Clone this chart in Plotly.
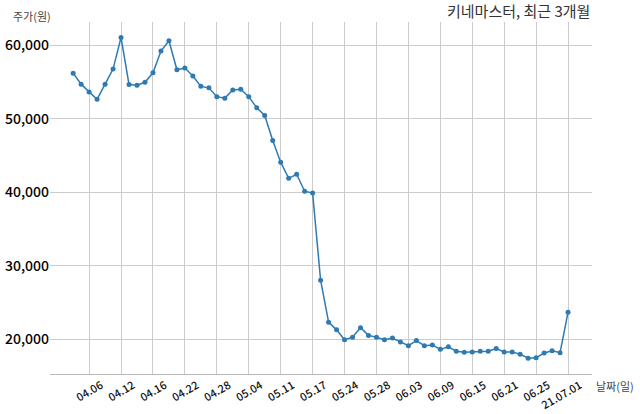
import plotly.graph_objects as go

# trading days (2021.04.02 ~ 2021.07.01)
dates = ['04.02', '04.05', '04.06', '04.07', '04.08', '04.09', '04.12', '04.13',
         '04.14', '04.15', '04.16', '04.19', '04.20', '04.21', '04.22', '04.23',
         '04.26', '04.27', '04.28', '04.29', '04.30', '05.03', '05.04', '05.06',
         '05.07', '05.10', '05.11', '05.12', '05.13', '05.14', '05.17', '05.18',
         '05.20', '05.21', '05.24', '05.25', '05.26', '05.27', '05.28', '05.31',
         '06.01', '06.02', '06.03', '06.04', '06.07', '06.08', '06.09', '06.10',
         '06.11', '06.14', '06.15', '06.16', '06.17', '06.18', '06.21', '06.22',
         '06.23', '06.24', '06.25', '06.28', '06.29', '06.30', '07.01']

prices = [56200, 54700, 53650, 52650, 54700, 56750, 61050, 54650,
          54550, 54950, 56250, 59200, 60600, 56650, 56900, 55800,
          54400, 54200, 53000, 52800, 53900, 54000, 53000, 51500,
          50450, 47050, 44100, 41900, 42450, 40150, 39900, 28050,
          22350, 21300, 19950, 20300, 21600, 20550, 20300, 19950,
          20200, 19650, 19150, 19850, 19150, 19250, 18650, 19000,
          18400, 18250, 18300, 18400, 18400, 18750, 18300, 18300,
          18000, 17450, 17500, 18150, 18450, 18200, 23700]

tick_dates = ['04.06', '04.12', '04.16', '04.22', '04.28', '05.04', '05.11', '05.17',
              '05.24', '05.28', '06.03', '06.09', '06.15', '06.21', '06.25', '07.01']
tick_text = tick_dates[:-1] + ['21.07.01']

y_ticks = [20000, 30000, 40000, 50000, 60000]

font = 'Noto Sans CJK KR'

fig = go.Figure()
fig.add_trace(go.Scatter(x=dates, y=prices, mode='lines+markers',
                         line=dict(color='#2e7ab2', width=1.5),
                         marker=dict(color='#2e7ab2', size=5),
                         showlegend=False))

fig.update_layout(
    width=640, height=414,
    margin=dict(l=50, r=48, t=22, b=40),
    plot_bgcolor='white', paper_bgcolor='white',
    font=dict(family=font, color='black'),
    xaxis=dict(type='category', range=[-2.9, 65], automargin=False,
               tickmode='array', tickvals=tick_dates, ticktext=tick_text,
               tickangle=-30, tickfont=dict(size=11, color='#111', weight=500),
               ticklabelshift=12,
               showgrid=True, gridcolor='#cccccc', gridwidth=1,
               showline=True, linecolor='#bbbbbb', linewidth=1,
               zeroline=False, ticks=''),
    yaxis=dict(range=[15300, 63150], tickvals=y_ticks, tickformat=',', automargin=False,
               tickfont=dict(size=14, color='black', weight=500),
               ticklabelstandoff=0,
               showgrid=True, gridcolor='#cccccc', gridwidth=1,
               showline=False, zeroline=False, ticks=''),
    annotations=[
        dict(text='키네마스터, 최근 3개월', xref='paper', yref='paper', x=1, y=1,
             xanchor='right', yanchor='bottom', yshift=-1, showarrow=False,
             font=dict(family=font, size=15, color='#333')),
        dict(text='주가(원)', xref='paper', yref='paper', x=0, y=1,
             xanchor='right', yanchor='bottom', xshift=3, yshift=-4, showarrow=False,
             font=dict(family=font, size=11, color='#444')),
        dict(text='날짜(일)', xref='paper', yref='paper', x=1, y=0,
             xanchor='left', yanchor='top', xshift=2, yshift=-2, showarrow=False,
             font=dict(family=font, size=11, color='#444')),
    ],
)

fig.write_html('out.html', config={'displayModeBar': False},
               post_script="document.body.style.margin='0';")
